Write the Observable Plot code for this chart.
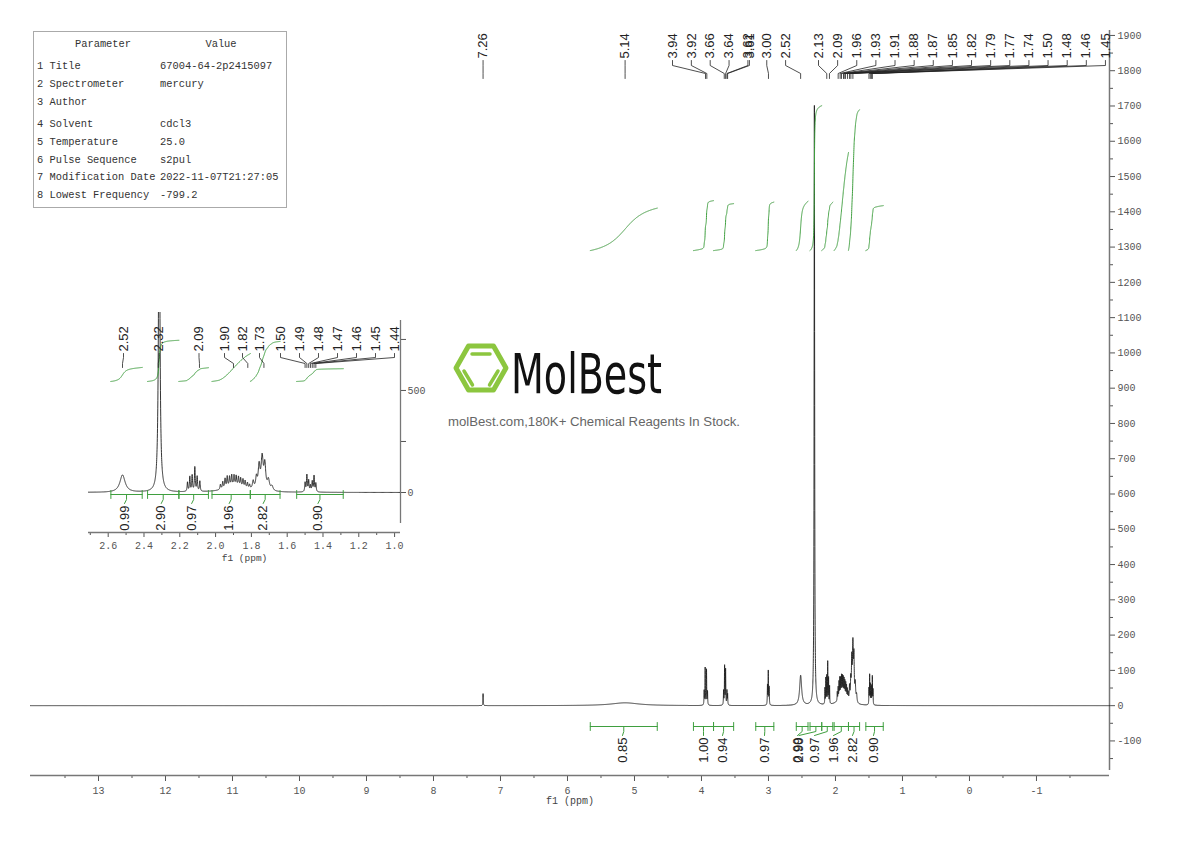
<!DOCTYPE html>
<html><head><meta charset="utf-8">
<script src="https://cdn.jsdelivr.net/npm/d3@7"></script>
<script src="https://cdn.jsdelivr.net/npm/@observablehq/plot@0.6"></script>
<style>
html,body{margin:0;padding:0;background:#fff;}
#wrap{position:relative;width:1190px;height:841px;overflow:hidden;background:#fff;}
#wrap > svg{position:absolute;left:0;top:0;}
#params{position:absolute;left:33px;top:31px;width:252px;height:175px;border:1px solid #aaa;font-family:"Liberation Mono",monospace;font-size:10.4px;color:#333;background:#fff;}
#params span{position:absolute;white-space:nowrap;line-height:14px;}
</style></head>
<body><div id="wrap"><div id="params"></div></div>
<script>
// ---------------- DATA ----------------
// 1H NMR lines: chemical shift (ppm), intensity, line width (ppm)
const peakPpm = [7.26, 5.14,
  3.96, 3.945, 3.925, 3.91,
  3.67, 3.655, 3.64, 3.62, 3.61,
  3.015, 3.003, 2.99,
  2.52, 2.315,
  2.157, 2.144, 2.131, 2.116, 2.103, 2.088,
  1.973, 1.96, 1.947, 1.935, 1.922, 1.91, 1.897, 1.885, 1.872, 1.86, 1.847, 1.835, 1.822, 1.81, 1.89,
  1.79, 1.772, 1.757, 1.74, 1.725, 1.705, 1.685,
  1.50, 1.49, 1.48, 1.47, 1.46, 1.45, 1.44];
const peakHeight = [34, 8,
  40, 105, 100, 38,
  40, 110, 100, 40, 30,
  55, 95, 50,
  85, 1700,
  45, 72, 78, 118, 72, 50,
  25, 35, 47, 55, 50, 55, 52, 49, 46, 42, 40, 35, 28, 20, 28,
  40, 55, 112, 155, 118, 50, 22,
  45, 82, 55, 30, 50, 78, 42];
const peakWidth = [0.006, 0.5,
  0.006, 0.006, 0.006, 0.006,
  0.006, 0.006, 0.006, 0.006, 0.006,
  0.006, 0.006, 0.006,
  0.035, 0.009,
  0.005, 0.005, 0.005, 0.005, 0.005, 0.005,
  0.006, 0.006, 0.006, 0.006, 0.006, 0.006, 0.006, 0.006, 0.006, 0.006, 0.006, 0.006, 0.006, 0.006, 0.14,
  0.01, 0.01, 0.012, 0.014, 0.012, 0.014, 0.014,
  0.005, 0.005, 0.005, 0.005, 0.005, 0.005, 0.005];

// integrals: region start / end (ppm) and value
const integralFrom  = [5.66, 4.12, 3.82, 3.19, 2.585, 2.38, 2.205, 2.02, 1.806, 1.547];
const integralTo    = [4.66, 3.82, 3.52, 2.92, 2.41, 2.205, 2.04, 1.806, 1.64, 1.287];
const integralValue = [0.85, 1.00, 0.94, 0.97, 0.99, 2.90, 0.97, 1.96, 2.82, 0.90];

// peak picking labels
const mainPeakLabels = [7.26, 5.14, 3.94, 3.92, 3.66, 3.64, 3.62, 3.61, 3.00, 2.52,
  2.13, 2.09, 1.96, 1.93, 1.91, 1.88, 1.87, 1.85, 1.82, 1.79, 1.77, 1.74, 1.50, 1.48, 1.46, 1.45];
const insetPeakLabels = [2.52, 2.32, 2.09, 1.90, 1.82, 1.73, 1.50, 1.49, 1.48, 1.47, 1.46, 1.45, 1.44];

// axis ticks
const mainXTicks = [13, 12, 11, 10, 9, 8, 7, 6, 5, 4, 3, 2, 1, 0, -1];
const mainYTicks = [-100, 0, 100, 200, 300, 400, 500, 600, 700, 800, 900, 1000, 1100, 1200, 1300, 1400, 1500, 1600, 1700, 1800, 1900];
const insetXTicks = [2.6, 2.4, 2.2, 2.0, 1.8, 1.6, 1.4, 1.2, 1.0];
const insetYTicks = [0, 250, 500, 750];
const insetYLabels = [0, 500];

// parameter table
const paramNames = ["1 Title", "2 Spectrometer", "3 Author", "4 Solvent", "5 Temperature", "6 Pulse Sequence", "7 Modification Date", "8 Lowest Frequency"];
const paramValues = ["67004-64-2p2415097", "mercury", "", "cdcl3", "25.0", "s2pul", "2022-11-07T21:27:05", "-799.2"];

// ---------------- LAYOUT ----------------
const W = 1190, H = 841;
const M = {left: 30, right: 1109, top: 30, bottom: 775};
const mainX = [14.015, -2.09], mainY = [-198, 1914];
const I = {left: 88, right: 400, top: 312, bottom: 532};
const insetX = [2.710, 0.967], insetY = [-196, 882];
const mx = d3.scaleLinear(mainX, [M.left, M.right]);
const my = d3.scaleLinear(mainY, [M.bottom, M.top]);
const ix = d3.scaleLinear(insetX, [I.left, I.right]);
const iy = d3.scaleLinear(insetY, [I.bottom, I.top]);
const GREEN = "#3f9f3f", INK = "#1e1e1e";
const LABEL_FONT = "'Liberation Sans', Arial, sans-serif";

// spectrum from the line list
function spec(p) {
  let s = 0;
  for (let i = 0; i < peakPpm.length; i++) {
    const hw = peakWidth[i] / 2, d = p - peakPpm[i];
    s += peakHeight[i] * hw * hw / (d * d + hw * hw);
  }
  return s;
}
const spectrum = [];
for (let p = mainX[0]; p > mainX[1]; ) {
  spectrum.push({ppm: p, v: spec(p)});
  const fine = (p < 4.2 && p > 1.2) || (p < 7.32 && p > 7.2);
  p -= fine ? 0.0005 : 0.005;
}
spectrum.push({ppm: mainX[1], v: spec(mainX[1])});
const insetSpectrum = spectrum.filter(d => d.ppm <= insetX[0] + 0.01 && d.ppm >= insetX[1] - 0.01);

function integralCurves(idx, base, perUnit) {
  const out = [];
  idx.forEach(i => {
    const a = integralFrom[i], b = integralTo[i];
    let cum = 0; const pts = [];
    for (let p = a; p >= b - 1e-9; p -= 0.001) { cum += spec(p); pts.push([p, cum]); }
    pts.forEach(([p, c]) => out.push({id: i, ppm: p, v: base + perUnit * integralValue[i] * c / cum}));
  });
  return out;
}

// label fan layout (pixels)
const mainLabelPx = [mx(7.26), mx(5.14)];
[0, 1, 2, 3, 4, 4.08, 5, 6].forEach(s => mainLabelPx.push(672 + 18.85 * s));
for (let k = 0; k < 16; k++) mainLabelPx.push(818 + 19.13 * k);
const insetLabelPx = [123, 158.5, 198.5, 224, 242, 259, 280, 299, 318, 337, 356, 375, 394];
const mainIntLabelPx = [622, 703, 722, 764, 797, 798.5, 814, 833, 852, 873];

function fan(labels, labelPx, sx, sy, ys) {
  const lines = [], texts = [];
  labels.forEach((p, i) => {
    const lx = labelPx[i], px = sx(p);
    [[lx, ys[0]], [lx, ys[1]], [px, ys[2]], [px, ys[3]]].forEach(([a, b]) => lines.push({id: i, x: sx.invert(a), y: sy.invert(b)}));
    texts.push({x: sx.invert(lx), y: sy.invert(ys[0] - 2), t: p.toFixed(2)});
  });
  return {lines, texts};
}
function bracketMarks(idx, sx, sy, yb, labelPx, labelTop) {
  const segs = [], texts = [];
  idx.forEach((i, k) => {
    const a = integralFrom[i], b = integralTo[i], c = sx((a + b) / 2), lx = labelPx[k];
    segs.push({id: "h" + i, pts: [[sx(a), yb], [sx(b), yb]]});
    segs.push({id: "l" + i, pts: [[sx(a), yb - 4], [sx(a), yb + 4]]});
    segs.push({id: "r" + i, pts: [[sx(b), yb - 4], [sx(b), yb + 4]]});
    segs.push({id: "c" + i, pts: [[c, yb], [c, yb + 5], [lx, labelTop - 2]]});
    texts.push({x: sx.invert(lx), y: sy.invert(labelTop), t: integralValue[i].toFixed(2)});
  });
  const lines = [];
  segs.forEach(s => s.pts.forEach(([a, b]) => lines.push({id: s.id, x: sx.invert(a), y: sy.invert(b)})));
  return {lines, texts};
}

// ---------------- MAIN PLOT ----------------
const mainFan = fan(mainPeakLabels, mainLabelPx, mx, my, [60, 65, 73, 78]);
const mainBr = bracketMarks(d3.range(10), mx, my, 726, mainIntLabelPx, 737);
const mainInt = integralCurves(d3.range(10), 1290, 141.7);
const yLow = my.invert(770);
const mainYMinor = mainYTicks.map(d => d + 50).concat([-150]).filter(d => d >= yLow && d <= mainY[1]);
const mainXMinor = mainXTicks.map(d => d + 0.5).concat([-1.5]);

const mainPlot = Plot.plot({
  width: W, height: H, marginLeft: M.left, marginRight: W - M.right, marginTop: M.top, marginBottom: H - M.bottom,
  style: {background: "transparent", fontFamily: "'Liberation Mono', monospace", fontSize: "10px", color: "#555", position: "absolute", left: "0px", top: "0px"},
  x: {domain: mainX}, y: {domain: mainY},
  marks: [
    Plot.axisX({ticks: mainXTicks, tickSize: 6, tickPadding: 5, tickFormat: d => String(d), label: null}),
    Plot.axisX({ticks: mainXMinor, tickSize: 3, tickFormat: () => "", label: null}),
    Plot.axisY({anchor: "right", ticks: mainYTicks, tickSize: 5, tickPadding: 3, tickFormat: d => String(d), label: null}),
    Plot.axisY({anchor: "right", ticks: mainYMinor, tickSize: 3, tickFormat: () => "", label: null}),
    Plot.ruleY([mainY[0]], {stroke: "#777", strokeWidth: 1.5}),
    Plot.ruleX([mainX[1]], {y1: yLow, y2: mainY[1], stroke: "#777", strokeWidth: 1.5}),
    Plot.text(["f1 (ppm)"], {frameAnchor: "bottom", dy: 28, text: d => d, fontSize: 10, fill: "#444"}),
    Plot.line(spectrum, {x: "ppm", y: "v", stroke: INK, strokeWidth: 0.9}),
    Plot.line(mainInt, {x: "ppm", y: "v", z: "id", stroke: GREEN, strokeWidth: 1}),
    Plot.line(mainBr.lines, {x: "x", y: "y", z: "id", stroke: GREEN, strokeWidth: 1}),
    Plot.text(mainBr.texts, {x: "x", y: "y", text: "t", rotate: -90, textAnchor: "end", fontSize: 13, fontFamily: LABEL_FONT, fill: "#222"}),
    Plot.line(mainFan.lines, {x: "x", y: "y", z: "id", stroke: "#222", strokeWidth: 0.8}),
    Plot.text(mainFan.texts, {x: "x", y: "y", text: "t", rotate: -90, textAnchor: "start", fontSize: 13, fontFamily: LABEL_FONT, fill: "#222"})
  ]
});
document.getElementById("wrap").appendChild(mainPlot);

// ---------------- INSET PLOT ----------------
const insetFan = fan(insetPeakLabels, insetLabelPx, ix, iy, [353, 357, 363, 367]);
const insetIdx = [4, 5, 6, 7, 8, 9];
const insetBr = bracketMarks(insetIdx, ix, iy, 494, insetIdx.map(i => ix((integralFrom[i] + integralTo[i]) / 2) - 2), 505);
const insetInt = integralCurves(insetIdx, 544, 69.6);
const insetXMinor = [2.7, 2.5, 2.3, 2.1, 1.9, 1.7, 1.5, 1.3, 1.1];

const insetPlot = Plot.plot({
  width: W, height: H, marginLeft: I.left, marginRight: W - I.right, marginTop: I.top, marginBottom: H - I.bottom,
  style: {background: "transparent", fontFamily: "'Liberation Mono', monospace", fontSize: "10px", color: "#555", position: "absolute", left: "0px", top: "0px"},
  x: {domain: insetX}, y: {domain: insetY},
  marks: [
    Plot.axisX({ticks: insetXTicks, tickSize: 5, tickPadding: 4, tickFormat: d => d.toFixed(1), label: null}),
    Plot.axisX({ticks: insetXMinor, tickSize: 3, tickFormat: () => "", label: null}),
    Plot.axisY({anchor: "right", ticks: insetYTicks, tickSize: 5, tickPadding: 2, tickFormat: d => insetYLabels.includes(d) ? String(d) : "", label: null}),
    Plot.ruleY([insetY[0]], {stroke: "#777", strokeWidth: 1.3}),
    Plot.ruleX([insetX[1]], {y1: iy.invert(523), y2: iy.invert(320), stroke: "#777", strokeWidth: 1.3}),
    Plot.text(["f1 (ppm)"], {frameAnchor: "bottom", dy: 28, text: d => d, fontSize: 9.5, fill: "#444"}),
    Plot.line(insetSpectrum, {x: "ppm", y: "v", stroke: INK, strokeWidth: 0.9, clip: true}),
    Plot.line(insetInt, {x: "ppm", y: "v", z: "id", stroke: GREEN, strokeWidth: 1}),
    Plot.line(insetBr.lines, {x: "x", y: "y", z: "id", stroke: GREEN, strokeWidth: 1}),
    Plot.text(insetBr.texts, {x: "x", y: "y", text: "t", rotate: -90, textAnchor: "end", fontSize: 13, fontFamily: LABEL_FONT, fill: "#222"}),
    Plot.line(insetFan.lines, {x: "x", y: "y", z: "id", stroke: "#222", strokeWidth: 0.8}),
    Plot.text(insetFan.texts, {x: "x", y: "y", text: "t", rotate: -90, textAnchor: "start", fontSize: 13, fontFamily: LABEL_FONT, fill: "#222"})
  ]
});
document.getElementById("wrap").appendChild(insetPlot);

// ---------------- LOGO (watermark) ----------------
const logo = d3.create("svg").attr("width", W).attr("height", H)
  .style("position", "absolute").style("left", "0px").style("top", "0px").style("pointer-events", "none");
const hex = [[456, 368], [468.5, 346], [493.5, 346], [506, 368], [493.5, 390], [468.5, 390]];
logo.append("polygon").attr("points", hex.map(p => p.join(",")).join(" "))
  .attr("fill", "none").attr("stroke", "#8cc63f").attr("stroke-width", 5).attr("stroke-linejoin", "round");
[[[472, 354], [490, 354]], [[464, 371], [472.5, 385]], [[498, 371], [489.5, 385]]].forEach(([a, b]) =>
  logo.append("line").attr("x1", a[0]).attr("y1", a[1]).attr("x2", b[0]).attr("y2", b[1])
    .attr("stroke", "#8cc63f").attr("stroke-width", 3.5).attr("stroke-linecap", "round"));
logo.append("text").attr("x", 511).attr("y", 393).attr("textLength", 151).attr("lengthAdjust", "spacingAndGlyphs")
  .attr("font-family", "'DejaVu Sans Condensed', 'DejaVu Sans', sans-serif").attr("font-size", 55).attr("fill", "#111")
  .text("MolBest");
logo.append("text").attr("x", 448).attr("y", 425.5).attr("textLength", 292).attr("lengthAdjust", "spacingAndGlyphs")
  .attr("font-family", LABEL_FONT).attr("font-size", 12.5).attr("fill", "#666")
  .text("molBest.com,180K+ Chemical Reagents In Stock.");
document.getElementById("wrap").appendChild(logo.node());

// ---------------- PARAMETER TABLE ----------------
const box = document.getElementById("params");
document.getElementById("wrap").appendChild(box);
function put(txt, left, cy, center) {
  const s = document.createElement("span");
  s.textContent = txt; s.style.top = (cy - 7) + "px";
  s.style.left = left + "px";
  if (center) s.style.transform = "translateX(-50%)";
  box.appendChild(s);
}
put("Parameter", 69, 12, true);
put("Value", 187, 12, true);
const rowY = [34, 52, 70, 92, 110, 128, 145, 163];
paramNames.forEach((n, i) => { put(n, 3, rowY[i]); put(paramValues[i], 126, rowY[i]); });
</script></body></html>
